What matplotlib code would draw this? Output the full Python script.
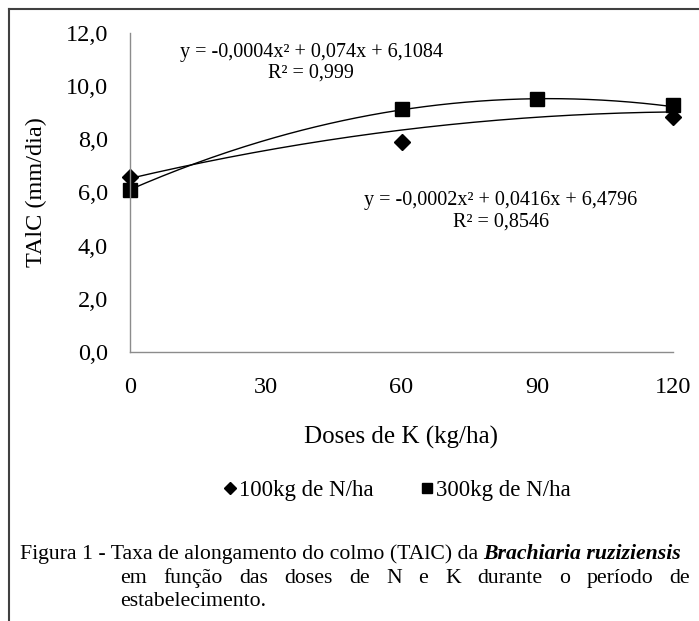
import numpy as np
import matplotlib
matplotlib.use("Agg")
import matplotlib.pyplot as plt
from matplotlib.lines import Line2D
from matplotlib.ticker import FuncFormatter

plt.rcParams['font.family'] = ['Liberation Serif', 'DejaVu Serif']

# data
x_100 = [0, 60, 120]
y_100 = [6.6, 7.9, 8.85]
x_300 = [0, 60, 90, 120]
y_300 = [6.1, 9.15, 9.5, 9.3]

# trendlines (coefficients as drawn on the chart)
coef_100 = [-0.000158, 0.0398, 6.53]
coef_300 = [-0.0004, 0.074, 6.1084]
eq_100 = "y = -0,0002x² + 0,0416x + 6,4796"
r2_100 = "R² = 0,8546"
eq_300 = "y = -0,0004x² + 0,074x + 6,1084"
r2_300 = "R² = 0,999"

xticks = [0, 30, 60, 90, 120]
yticks = [0, 2, 4, 6, 8, 10, 12]

W, H = 699, 621
fig = plt.figure(figsize=(W / 100, H / 100), dpi=100)
ax = fig.add_axes([130 / W, 1 - 352 / H, (673 - 130) / W, (352 - 33) / H])

xs = np.linspace(0, 120, 200)
ax.plot(xs, np.polyval(coef_300, xs), color='black', lw=1.0)
ax.plot(xs, np.polyval(coef_100, xs), color='black', lw=1.0)
ax.plot(x_100, y_100, linestyle='none', marker='D', ms=8.5, color='black',
        label='100kg de N/ha', clip_on=False)
ax.plot(x_300, y_300, linestyle='none', marker='s', ms=10, color='black',
        label='300kg de N/ha', clip_on=False)

ax.set_xlim(0, 120)
ax.set_ylim(0, 12)
ax.set_xticks(xticks)
ax.set_yticks(yticks)
ax.yaxis.set_major_formatter(FuncFormatter(lambda v, p: f"{v:.1f}".replace('.', ',')))
ax.tick_params(length=0, labelsize=17.5)
ax.tick_params(axis='y', pad=16)
ax.tick_params(axis='x', pad=18)
for s in ['top', 'right']:
    ax.spines[s].set_visible(False)
for s in ['left', 'bottom']:
    ax.spines[s].set_color('#8c8c8c')
    ax.spines[s].set_linewidth(1.0)

ax.set_xlabel('Doses de K (kg/ha)', fontsize=18, labelpad=20)
ax.set_ylabel('TAlC (mm/dia)', fontsize=17.5, labelpad=13)

# trendline equations
eq_fs = 14.5
fig.text(311 / W, 1 - 52 / H, eq_300, fontsize=eq_fs, ha='center', va='center')
fig.text(311 / W, 1 - 73 / H, r2_300, fontsize=eq_fs, ha='center', va='center')
fig.text(501 / W, 1 - 201 / H, eq_100, fontsize=eq_fs, ha='center', va='center')
fig.text(501 / W, 1 - 222 / H, r2_100, fontsize=eq_fs, ha='center', va='center')

# legend
fig.legend(loc='center', bbox_to_anchor=(397 / W, 1 - 490 / H), ncol=2, frameon=False,
           fontsize=16.5, handlelength=0.6, handletextpad=0.1, columnspacing=2.0,
           markerscale=0.75)

# frame lines
fig.add_artist(Line2D([9 / W, 9 / W], [0, 1 - 9 / H], color='#404040', lw=1.5))
fig.add_artist(Line2D([9 / W, 1], [1 - 9 / H, 1 - 9 / H], color='#404040', lw=1.5))

# caption
cap_fs = 15.7
y1 = 1 - 559 / H
t1 = fig.text(20 / W, y1, "Figura 1 - Taxa de alongamento do colmo (TAlC) da ",
              fontsize=cap_fs, va='baseline')
fig.canvas.draw()
r = fig.canvas.get_renderer()
bb = t1.get_window_extent(r)
fig.text(bb.x1 / W, y1, "Brachiaria ruziziensis", fontsize=cap_fs, va='baseline',
         fontweight='bold', fontstyle='italic')

# justified second line
words = "em função das doses de N e K durante o período de".split()
y2 = 1 - 583 / H
x_start, x_end = 120, 690
tw = [fig.text(0, y2, w, fontsize=cap_fs, va='baseline') for w in words]
fig.canvas.draw()
widths = [t.get_window_extent(r).width for t in tw]
gap = (x_end - x_start - sum(widths)) / (len(words) - 1)
xpos = x_start
for t, w in zip(tw, widths):
    t.set_x(xpos / W)
    xpos += w + gap

fig.text(120 / W, 1 - 606 / H, "estabelecimento.", fontsize=cap_fs, va='baseline')

fig.savefig('out.png', dpi=100)
